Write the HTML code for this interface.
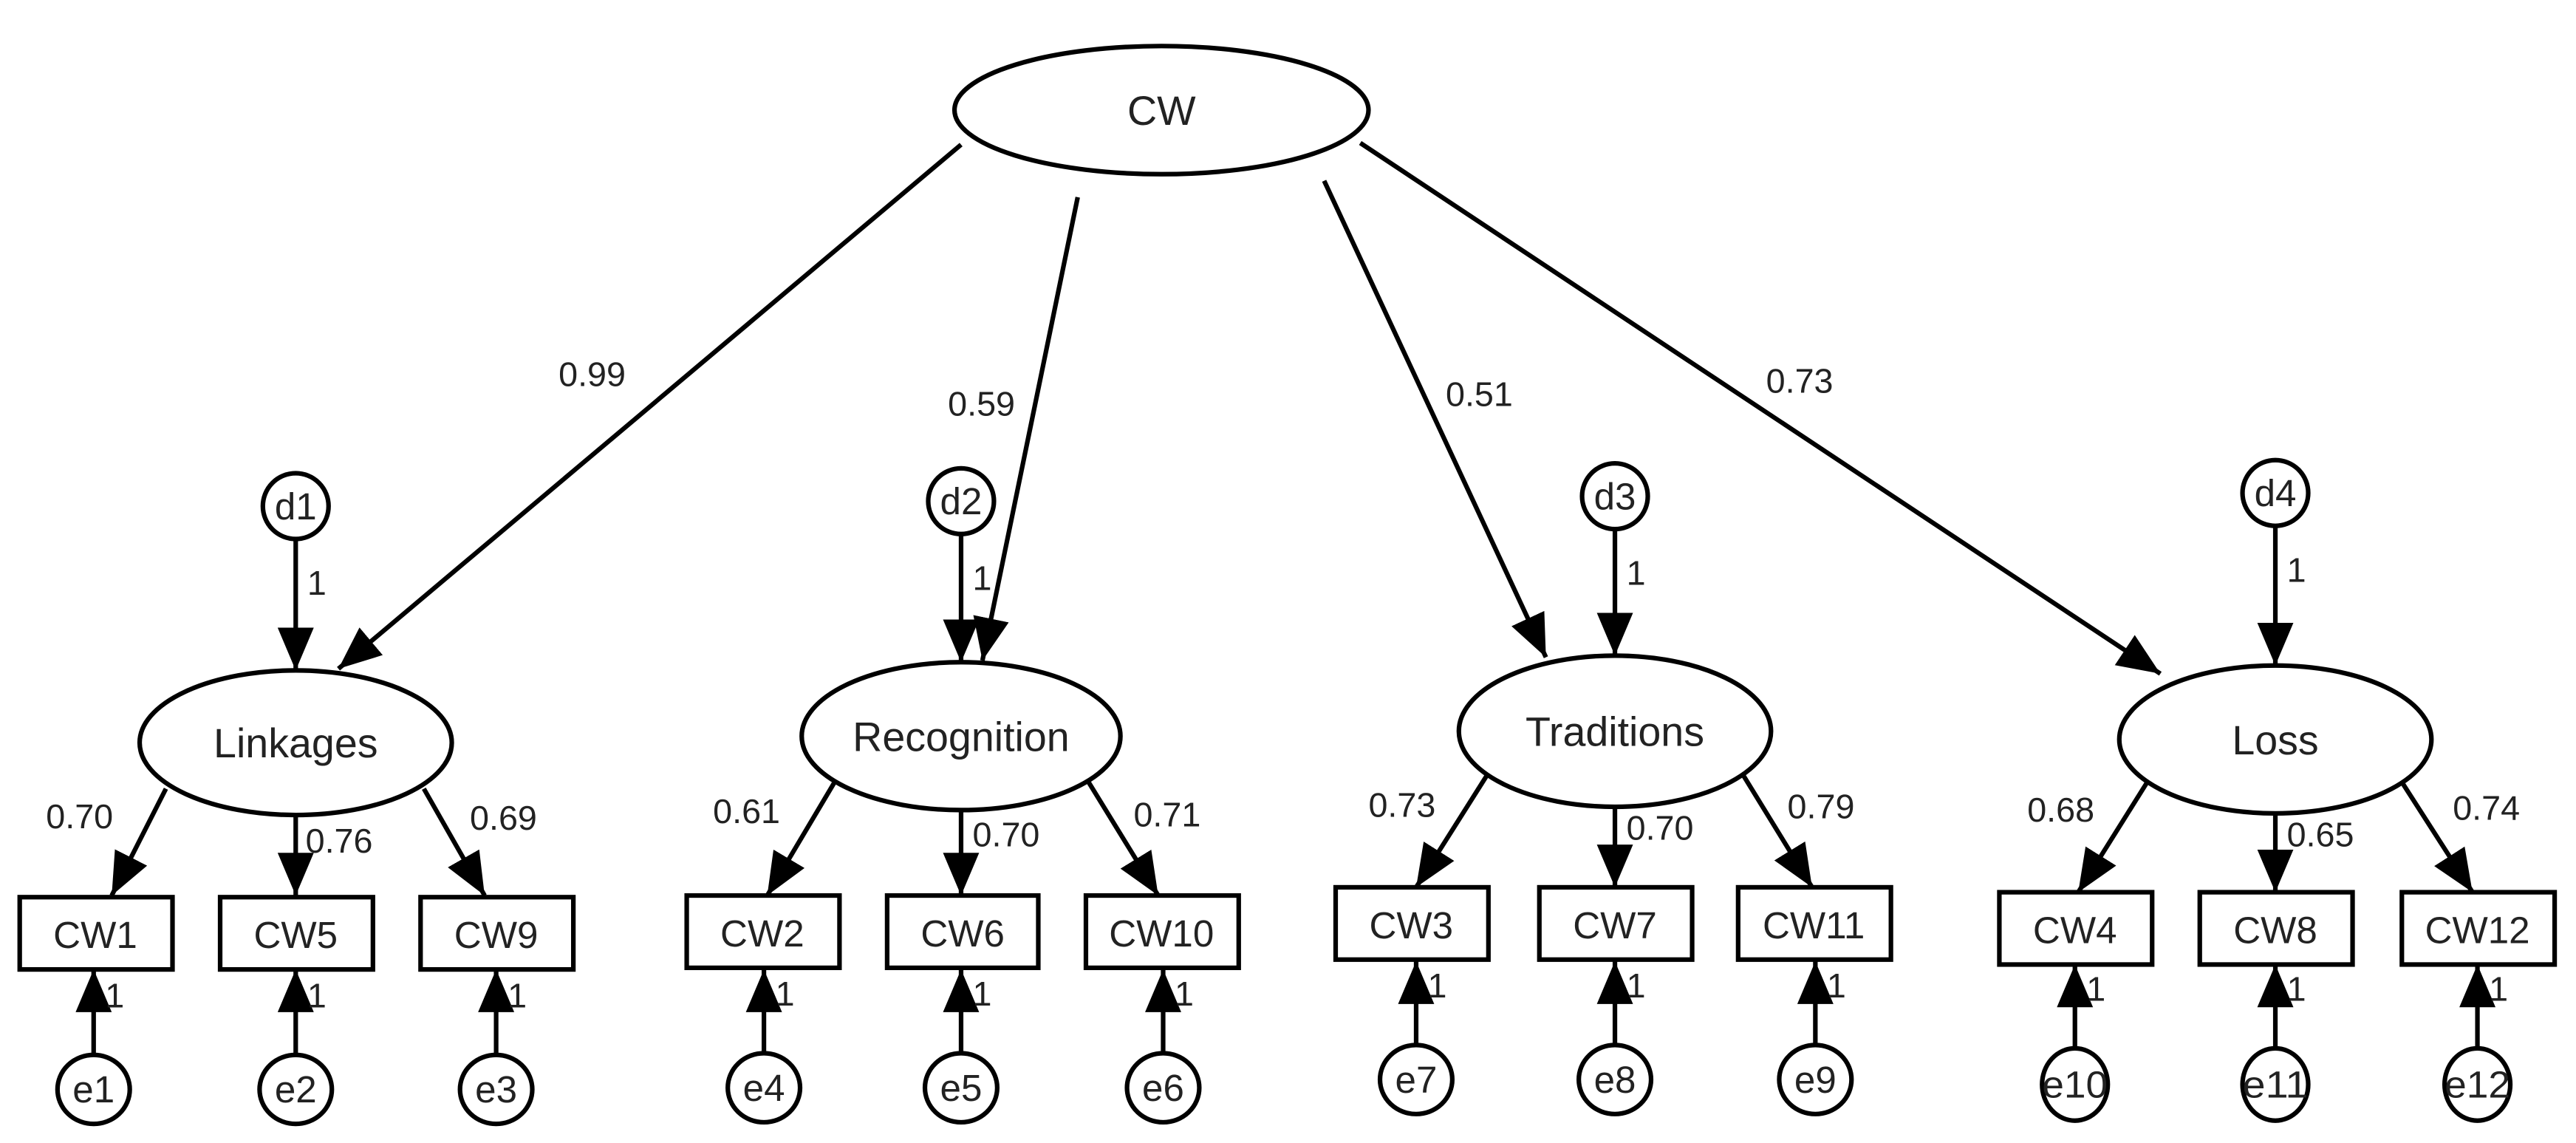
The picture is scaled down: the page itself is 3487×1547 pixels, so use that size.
<!DOCTYPE html>
<html><head><meta charset="utf-8"><style>
html,body{margin:0;padding:0;background:#fff;}
svg{display:block;}
text{font-family:"Liberation Sans",Arial,sans-serif;fill:#222;}
</style></head><body>
<svg width="3487" height="1547" viewBox="0 0 1568 695.6" xmlns="http://www.w3.org/2000/svg">
<defs>
<marker id="a" markerUnits="userSpaceOnUse" markerWidth="28" markerHeight="26" refX="26" refY="11" orient="auto">
<path d="M0,0 L26,11 L0,22 Z" fill="#000"/>
</marker>
</defs>
<g stroke="#000" stroke-width="2.8" fill="none">
<line x1="585" y1="88" x2="206" y2="407" marker-end="url(#a)"/>
<line x1="656" y1="120" x2="598" y2="402" marker-end="url(#a)"/>
<line x1="806" y1="110" x2="941" y2="400" marker-end="url(#a)"/>
<line x1="828" y1="87" x2="1315" y2="410" marker-end="url(#a)"/>
<line x1="180" y1="329" x2="180" y2="408" marker-end="url(#a)"/>
<line x1="585" y1="326" x2="585" y2="403" marker-end="url(#a)"/>
<line x1="983" y1="323" x2="983" y2="399" marker-end="url(#a)"/>
<line x1="1385" y1="321" x2="1385" y2="405" marker-end="url(#a)"/>
<line x1="101" y1="480" x2="68" y2="545" marker-end="url(#a)"/>
<line x1="180" y1="496" x2="180" y2="545" marker-end="url(#a)"/>
<line x1="258" y1="480" x2="295" y2="545" marker-end="url(#a)"/>
<line x1="508" y1="476" x2="467" y2="545" marker-end="url(#a)"/>
<line x1="585" y1="493" x2="585" y2="545" marker-end="url(#a)"/>
<line x1="662" y1="475" x2="705" y2="545" marker-end="url(#a)"/>
<line x1="905" y1="472" x2="862" y2="540" marker-end="url(#a)"/>
<line x1="983" y1="491" x2="983" y2="540" marker-end="url(#a)"/>
<line x1="1060" y1="470" x2="1103" y2="540" marker-end="url(#a)"/>
<line x1="1307" y1="476" x2="1265" y2="543" marker-end="url(#a)"/>
<line x1="1385" y1="495" x2="1385" y2="543" marker-end="url(#a)"/>
<line x1="1462" y1="476" x2="1505" y2="543" marker-end="url(#a)"/>
<line x1="57" y1="641" x2="57" y2="590" marker-end="url(#a)"/>
<line x1="180" y1="641" x2="180" y2="590" marker-end="url(#a)"/>
<line x1="302" y1="641" x2="302" y2="590" marker-end="url(#a)"/>
<line x1="465" y1="640" x2="465" y2="590" marker-end="url(#a)"/>
<line x1="585" y1="640" x2="585" y2="590" marker-end="url(#a)"/>
<line x1="708" y1="640" x2="708" y2="590" marker-end="url(#a)"/>
<line x1="862" y1="635" x2="862" y2="585" marker-end="url(#a)"/>
<line x1="983" y1="635" x2="983" y2="585" marker-end="url(#a)"/>
<line x1="1105" y1="635" x2="1105" y2="585" marker-end="url(#a)"/>
<line x1="1263" y1="637" x2="1263" y2="587" marker-end="url(#a)"/>
<line x1="1385" y1="637" x2="1385" y2="587" marker-end="url(#a)"/>
<line x1="1508" y1="637" x2="1508" y2="587" marker-end="url(#a)"/>
</g>
<g stroke="#000" stroke-width="2.8" fill="#fff">
<ellipse cx="707" cy="67" rx="126" ry="39"/>
<ellipse cx="180" cy="452" rx="95" ry="44"/>
<ellipse cx="585" cy="448" rx="97" ry="45"/>
<ellipse cx="983" cy="445" rx="95" ry="46"/>
<ellipse cx="1385" cy="450" rx="95" ry="45"/>
<circle cx="180" cy="308" r="20"/>
<circle cx="585" cy="305" r="20"/>
<circle cx="983" cy="302" r="20"/>
<circle cx="1385" cy="300" r="20"/>
<rect x="12" y="546" width="93" height="44"/>
<rect x="134" y="546" width="93" height="44"/>
<rect x="256" y="546" width="93" height="44"/>
<rect x="418" y="545" width="93" height="44"/>
<rect x="540" y="545" width="92" height="44"/>
<rect x="661" y="545" width="93" height="44"/>
<rect x="813" y="540" width="93" height="44"/>
<rect x="937" y="540" width="93" height="44"/>
<rect x="1058" y="540" width="93" height="44"/>
<rect x="1217" y="543" width="93" height="44"/>
<rect x="1339" y="543" width="93" height="44"/>
<rect x="1462" y="543" width="93" height="44"/>
<ellipse cx="57" cy="663" rx="22" ry="21"/>
<ellipse cx="180" cy="663" rx="22" ry="21"/>
<ellipse cx="302" cy="663" rx="22" ry="21"/>
<ellipse cx="465" cy="662" rx="22" ry="21"/>
<ellipse cx="585" cy="662" rx="22" ry="21"/>
<ellipse cx="708" cy="662" rx="22" ry="21"/>
<ellipse cx="862" cy="657" rx="22" ry="21"/>
<ellipse cx="983" cy="657" rx="22" ry="21"/>
<ellipse cx="1105" cy="657" rx="22" ry="21"/>
<ellipse cx="1263" cy="660" rx="20" ry="22"/>
<ellipse cx="1385" cy="660" rx="20" ry="22"/>
<ellipse cx="1508" cy="660" rx="20" ry="22"/>
</g>
<g font-size="25" text-anchor="middle">
<text x="707" y="76">CW</text>
<text x="180" y="461">Linkages</text>
<text x="585" y="457">Recognition</text>
<text x="983" y="454">Traditions</text>
<text x="1385" y="459">Loss</text>
</g>
<g font-size="23" text-anchor="middle">
<text x="180" y="316">d1</text><text x="585" y="313">d2</text><text x="983" y="310">d3</text><text x="1385" y="308">d4</text>
<text x="58" y="577">CW1</text><text x="180" y="577">CW5</text><text x="302" y="577">CW9</text>
<text x="464" y="576">CW2</text><text x="586" y="576">CW6</text><text x="707" y="576">CW10</text>
<text x="859" y="571">CW3</text><text x="983" y="571">CW7</text><text x="1104" y="571">CW11</text>
<text x="1263" y="574">CW4</text><text x="1385" y="574">CW8</text><text x="1508" y="574">CW12</text>
<text x="57" y="671">e1</text><text x="180" y="671">e2</text><text x="302" y="671">e3</text>
<text x="465" y="670">e4</text><text x="585" y="670">e5</text><text x="708" y="670">e6</text>
<text x="862" y="665">e7</text><text x="983" y="665">e8</text><text x="1105" y="665">e9</text>
<text x="1263" y="668" textLength="40" lengthAdjust="spacingAndGlyphs">e10</text><text x="1385" y="668" textLength="40" lengthAdjust="spacingAndGlyphs">e11</text><text x="1508" y="668" textLength="40" lengthAdjust="spacingAndGlyphs">e12</text>
</g>
<g font-size="21">
<text x="340" y="235">0.99</text>
<text x="577" y="253">0.59</text>
<text x="880" y="247">0.51</text>
<text x="1075" y="239">0.73</text>
<text x="187" y="362">1</text><text x="592" y="359">1</text><text x="990" y="356">1</text><text x="1392" y="354">1</text>
<text x="28" y="504">0.70</text><text x="186" y="519">0.76</text><text x="286" y="505">0.69</text>
<text x="434" y="501">0.61</text><text x="592" y="515">0.70</text><text x="690" y="503">0.71</text>
<text x="833" y="497">0.73</text><text x="990" y="511">0.70</text><text x="1088" y="498">0.79</text>
<text x="1234" y="500">0.68</text><text x="1392" y="515">0.65</text><text x="1493" y="499">0.74</text>
<text x="64" y="613">1</text><text x="187" y="613">1</text><text x="309" y="613">1</text>
<text x="472" y="612">1</text><text x="592" y="612">1</text><text x="715" y="612">1</text>
<text x="869" y="607">1</text><text x="990" y="607">1</text><text x="1112" y="607">1</text>
<text x="1270" y="609">1</text><text x="1392" y="609">1</text><text x="1515" y="609">1</text>
</g>
</svg>
</body></html>
